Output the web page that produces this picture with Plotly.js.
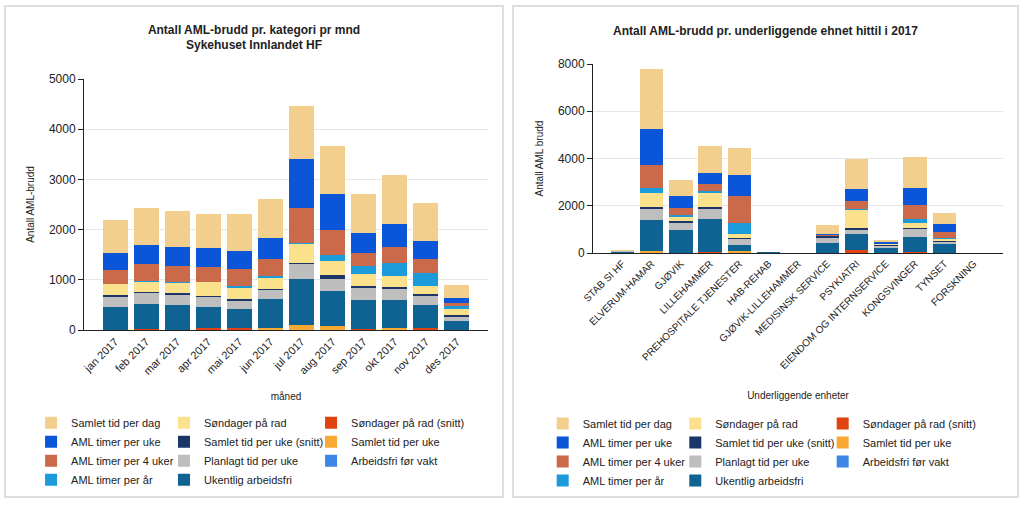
<!DOCTYPE html>
<html><head><meta charset="utf-8">
<script src="https://cdn.plot.ly/plotly-3.0.1.min.js"></script>
<style>
html,body{margin:0;padding:0;background:#fff;width:1024px;height:506px;overflow:hidden}
.panel{position:absolute;top:5px;height:493px;border:2px solid #dedede;box-sizing:border-box;background:#fff}
#p1{left:4px;width:500px}
#p2{left:512px;width:507px}
</style></head><body>
<div class="panel" id="p1"><div id="c1"></div></div>
<div class="panel" id="p2"><div id="c2"></div></div>
<script>
// ---------- categories ----------
const months = ['jan 2017','feb 2017','mar 2017','apr 2017','mai 2017','jun 2017','jul 2017','aug 2017','sep 2017','okt 2017','nov 2017','des 2017'];
const units = ['STAB SI HF','ELVERUM-HAMAR','GJØVIK','LILLEHAMMER','PREHOSPITALE TJENESTER','HAB-REHAB','GJØVIK-LILLEHAMMER','MEDISINSK SERVICE','PSYKIATRI','EIENDOM OG INTERNSERVICE','KONGSVINGER','TYNSET','FORSKNING'];

// ---------- series names (stack order bottom -> top) ----------
const seriesNames = ['Arbeidsfri før vakt','Samlet tid per uke','Søndager på rad (snitt)','Ukentlig arbeidsfri','Planlagt tid per uke','Samlet tid per uke (snitt)','Søndager på rad','AML timer per år','AML timer per 4 uker','AML timer per uke','Samlet tid per dag'];
const seriesColors = ['#3d86e5','#f8a934','#e1420f','#0f6393','#bebebe','#1b3566','#fce18c','#1c9bdb','#cb6a4a','#0b55d8','#f2cf8c'];
// legend column (1..3) and rank inside the column
const legendColumn = [3,3,3,2,2,2,2,1,1,1,1];
const legendRanks  = [3,2,1,4,3,2,1,4,3,2,1];

// ---------- per month ----------
const m_arbeidsfriForVakt   = [0,0,0,0,0,5,10,5,0,5,0,0];
const m_samletTidPerUke     = [0,0,0,10,0,30,80,70,0,25,0,0];
const m_sondagerPaRadSnitt  = [0,20,0,30,45,5,10,0,20,0,45,0];
const m_ukentligArbeidsfri  = [465,500,500,415,370,570,925,700,575,565,460,185];
const m_planlagtTidPerUke   = [200,215,200,200,170,180,280,240,240,220,175,80];
const m_samletTidPerUkeSnitt= [30,30,35,20,30,35,30,80,50,40,30,35];
const m_sondagerPaRad       = [220,200,205,280,230,215,370,270,225,230,175,115];
const m_amlTimerPerAr       = [10,20,10,10,35,45,30,120,165,250,245,70];
const m_amlTimerPer4Uker    = [280,335,325,300,330,330,690,515,265,310,285,50];
const m_amlTimerPerUke      = [330,375,385,365,370,420,980,715,400,460,360,100];
const m_samletTidPerDag     = [660,730,710,675,730,770,1060,950,765,990,760,265];

// ---------- per unit ----------
const u_arbeidsfriForVakt   = [0,10,5,5,5,0,0,0,5,0,5,0,0];
const u_samletTidPerUke     = [0,60,0,0,100,0,0,0,0,0,0,0,0];
const u_sondagerPaRadSnitt  = [0,10,0,30,0,0,0,0,110,0,40,20,0];
const u_ukentligArbeidsfri  = [40,1300,950,1390,220,30,0,420,690,220,640,350,0];
const u_planlagtTidPerUke   = [25,470,310,450,250,0,0,230,160,60,310,100,0];
const u_samletTidPerUkeSnitt= [5,100,70,85,60,10,0,50,85,50,70,40,0];
const u_sondagerPaRad       = [0,580,200,595,170,0,0,20,770,40,188,90,0];
const u_amlTimerPerAr       = [0,210,80,70,460,0,0,0,30,0,183,20,0];
const u_amlTimerPer4Uker    = [30,980,270,285,1140,0,0,40,350,30,580,255,0];
const u_amlTimerPerUke      = [5,1540,540,470,890,0,0,30,510,60,747,340,0];
const u_samletTidPerDag     = [10,2540,665,1130,1140,10,0,380,1270,90,1316,480,0];

const monthSeries = [m_arbeidsfriForVakt,m_samletTidPerUke,m_sondagerPaRadSnitt,m_ukentligArbeidsfri,m_planlagtTidPerUke,m_samletTidPerUkeSnitt,m_sondagerPaRad,m_amlTimerPerAr,m_amlTimerPer4Uker,m_amlTimerPerUke,m_samletTidPerDag];
const unitSeries = [u_arbeidsfriForVakt,u_samletTidPerUke,u_sondagerPaRadSnitt,u_ukentligArbeidsfri,u_planlagtTidPerUke,u_samletTidPerUkeSnitt,u_sondagerPaRad,u_amlTimerPerAr,u_amlTimerPer4Uker,u_amlTimerPerUke,u_samletTidPerDag];

const FONT = 'Arial, "Liberation Sans", sans-serif';
const legendIds = ['legend','legend2','legend3'];

function makeTraces(cats, series){
  return series.map((vals,i)=>({
    type:'bar', x:cats, y:vals, name:seriesNames[i],
    marker:{color:seriesColors[i], line:{width:0}},
    legend:legendIds[legendColumn[i]-1], legendrank:legendRanks[i], hoverinfo:'skip'
  }));
}
function oddTicks(n){ const t=[]; for(let i=-1;i<=n;i+=2) t.push(i); return t; }

function makeLayout(o){
  const lay = {
    width:o.w, height:489,
    margin:{l:o.l, r:o.r, t:o.t, b:o.b, pad:0, autoexpand:false},
    barmode:'stack', bargap:0.2,
    paper_bgcolor:'#fff', plot_bgcolor:'#fff',
    font:{family:FONT, color:'#222', size:11},
    title:{text:o.title, x:0.5, xref:'container', xanchor:'center', y:o.ty, yanchor:'top', font:{family:FONT,size:12,color:'#222'}},
    showlegend:true,
    xaxis:{type:'category', range:[-1, o.n], ticks:'', tickangle:-45, tickfont:{size:o.xfs,color:'#222'},
           showline:true, linecolor:'#222', linewidth:1, showgrid:false, zeroline:false, automargin:false,
           title:{text:o.xtitle, font:{size:10,color:'#222'}, standoff:o.xstand}},
    xaxis2:{type:'linear', overlaying:'x', anchor:'y', side:'bottom', range:[-1, o.n], tickvals:oddTicks(o.n),
            ticks:'outside', ticklen:5, tickcolor:'#222', showticklabels:false, showgrid:false, zeroline:false, showline:false},
    yaxis:{range:[0, o.ymax], dtick:o.dtick, ticks:'outside', ticklen:5, tickcolor:'#222', showline:true, linecolor:'#222',
           gridcolor:'#e6e6e6', zeroline:false, tickfont:{size:12,color:'#222'}, automargin:false,
           title:{text:o.ytitle, font:{size:10,color:'#222'}, standoff:12}}
  };
  legendIds.forEach((id,k)=>{
    lay[id] = {orientation:'v', x:o.lx[k], xanchor:'left', y:o.ly, yanchor:'top', traceorder:'normal',
               font:{size:11,color:'#222'}, bgcolor:'rgba(0,0,0,0)', borderwidth:0};
  });
  return lay;
}

const cfg = {staticPlot:true, displayModeBar:false};

Plotly.newPlot('c1', makeTraces(months, monthSeries), makeLayout({
  w:496, l:78, r:14, t:72, b:166, n:months.length, ymax:5000, dtick:1000, xfs:11, ty:0.9455,
  title:'<b>Antall AML-brudd pr. kategori pr mnd</b><br><b>Sykehuset Innlandet HF</b>',
  xtitle:'måned', ytitle:'Antall AML-brudd', xstand:17,
  lx:[-0.131, 0.198, 0.562], ly:-0.312
}), cfg);

Plotly.newPlot('c2', makeTraces(units, unitSeries), makeLayout({
  w:503, l:79, r:14, t:57, b:243, n:units.length, ymax:8000, dtick:2000, xfs:10, ty:0.96,
  title:'<b>Antall AML-brudd pr. underliggende ehnet hittil i 2017</b>',
  xtitle:'Underliggende enheter', ytitle:'Antall AML brudd', xstand:21,
  lx:[-0.1227, 0.2007, 0.5602], ly:-0.825
}), cfg);
</script></body></html>
